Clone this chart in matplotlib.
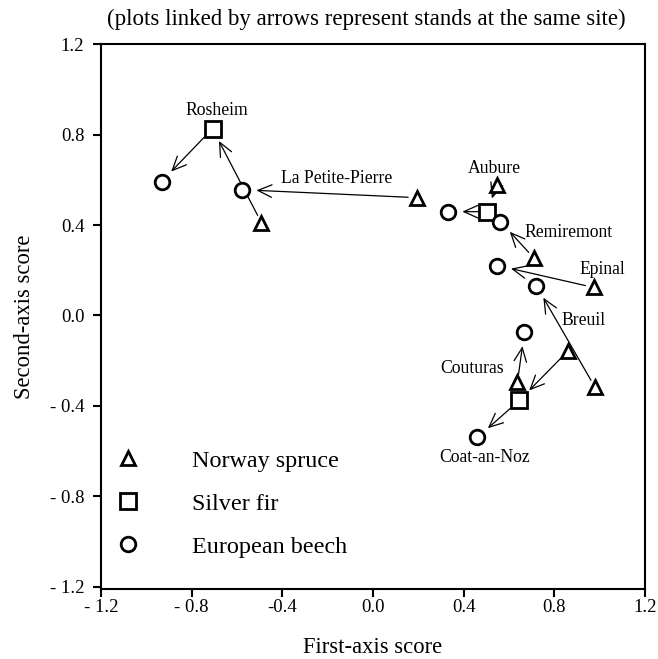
import matplotlib
matplotlib.use("Agg")
import matplotlib.pyplot as plt
from matplotlib.lines import Line2D

plt.rcParams['font.family'] = ['Liberation Serif', 'DejaVu Serif']

# ---- data ----
sites = ["Rosheim", "La Petite-Pierre", "Aubure", "Remiremont",
         "Epinal", "Breuil", "Couturas", "Coat-an-Noz"]

# Norway spruce (one per site, same order as sites)
spruce_x = [-0.492, 0.192, 0.545, 0.712, 0.973, 0.980, 0.637, 0.862]
spruce_y = [0.410, 0.521, 0.578, 0.252, 0.124, -0.318, -0.296, -0.155]

# Silver fir (only some sites)
fir_sites = ["Rosheim", "Aubure", "Coat-an-Noz"]
fir_x = [-0.708, 0.505, 0.646]
fir_y = [0.826, 0.459, -0.375]

# European beech (one per site, same order as sites)
beech_x = [-0.933, -0.576, 0.333, 0.562, 0.549, 0.721, 0.668, 0.461]
beech_y = [0.592, 0.556, 0.459, 0.415, 0.221, 0.132, -0.075, -0.539]

xticks = [-1.2, -0.8, -0.4, 0.0, 0.4, 0.8, 1.2]
xtick_labels = ["- 1.2", "- 0.8", "-0.4", "0.0", "0.4", "0.8", "1.2"]
yticks = [-1.2, -0.8, -0.4, 0.0, 0.4, 0.8, 1.2]
ytick_labels = ["- 1.2", "- 0.8", "- 0.4", "0.0", "0.4", "0.8", "1.2"]

legend_labels = ["Norway spruce", "Silver fir", "European beech"]

# ---- layout (label positions for site names) ----
label_pos = {
    "Rosheim": (-0.690, 0.905),
    "La Petite-Pierre": (-0.161, 0.605),
    "Aubure": (0.536, 0.649),
    "Remiremont": (0.862, 0.366),
    "Epinal": (1.012, 0.203),
    "Breuil": (0.928, -0.022),
    "Couturas": (0.439, -0.234),
    "Coat-an-Noz": (0.492, -0.627),
}

fig = plt.figure(figsize=(6.58, 6.59), dpi=100)
ax = fig.add_axes([0.1535, 0.1062, 0.8267, 0.827])

ax.set_xlim(-1.2, 1.2)
ax.set_ylim(-1.209, 1.2)

mew = 2.0
ms_tri, ms_sq, ms_circ = 9.5, 11, 10.5
ax.plot(spruce_x, spruce_y, linestyle='none', marker='^', ms=ms_tri,
        mfc='white', mec='black', mew=mew, zorder=3)
ax.plot(fir_x, fir_y, linestyle='none', marker='s', ms=ms_sq,
        mfc='white', mec='black', mew=mew, zorder=3)
ax.plot(beech_x, beech_y, linestyle='none', marker='o', ms=ms_circ,
        mfc='white', mec='black', mew=mew, zorder=3)

# arrows: spruce -> (fir) -> beech within each site
arrowprops = dict(arrowstyle='->,head_length=1.0,head_width=0.45',
                  color='black', lw=0.9, shrinkA=6, shrinkB=10,
                  mutation_scale=10)
for i, s in enumerate(sites):
    chain = [(spruce_x[i], spruce_y[i])]
    if s in fir_sites:
        j = fir_sites.index(s)
        chain.append((fir_x[j], fir_y[j]))
    chain.append((beech_x[i], beech_y[i]))
    for a, b in zip(chain[:-1], chain[1:]):
        ax.annotate('', xy=b, xytext=a, arrowprops=arrowprops, zorder=2)
    lx, ly = label_pos[s]
    ax.text(lx, ly, s, ha='center', va='center', fontsize=12.7, zorder=4)

ax.set_xticks(xticks)
ax.set_xticklabels(xtick_labels)
ax.set_yticks(yticks)
ax.set_yticklabels(ytick_labels)
ax.tick_params(direction='out', length=5.5, width=1.5, labelsize=13.5)
ax.tick_params(axis='x', pad=2)
ax.tick_params(axis='y', pad=6.5)

for sp in ax.spines.values():
    sp.set_linewidth(1.5)

ax.set_xlabel("First-axis score", fontsize=16.3)
ax.xaxis.set_label_coords(0.5, -0.088)
ax.set_ylabel("Second-axis score", fontsize=16.3)
ax.yaxis.set_label_coords(-0.122, 0.5)
ax.set_title("(plots linked by arrows represent stands at the same site)",
             fontsize=16.5, pad=14, x=0.488)

handles = [
    Line2D([], [], linestyle='none', marker='^', ms=ms_tri, mfc='white', mec='black', mew=mew),
    Line2D([], [], linestyle='none', marker='s', ms=ms_sq, mfc='white', mec='black', mew=mew),
    Line2D([], [], linestyle='none', marker='o', ms=ms_circ, mfc='white', mec='black', mew=mew),
]
ax.legend(handles, legend_labels, loc='upper left', bbox_to_anchor=(0.0276, 0.255),
          frameon=False, fontsize=17.4, handlelength=1.0, handletextpad=2.15,
          labelspacing=0.87, borderpad=0, borderaxespad=0)

fig.savefig("out.png", dpi=100)
